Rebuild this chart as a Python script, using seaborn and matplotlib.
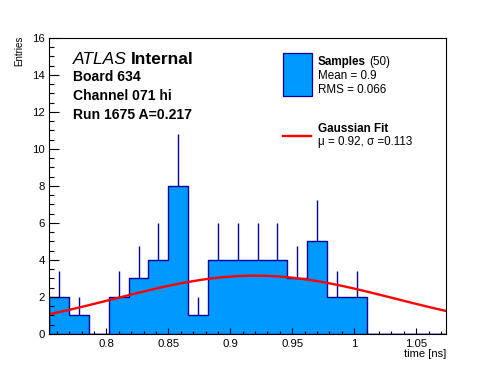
import matplotlib
matplotlib.use("Agg")
import matplotlib.pyplot as plt
import numpy as np
import pandas as pd
import seaborn as sns

# histogram: 20 bins of 0.016 ns starting at 0.754
bin_edges = [0.754, 0.770, 0.786, 0.802, 0.818, 0.834, 0.850, 0.866, 0.882, 0.898,
             0.914, 0.930, 0.946, 0.962, 0.978, 0.994, 1.010, 1.026, 1.042, 1.058, 1.074]
counts = [2, 1, 0, 2, 3, 4, 8, 1, 4, 4, 4, 4, 3, 5, 2, 2, 0, 0, 0, 0]

# gaussian fit parameters
fit_mu = 0.92
fit_sigma = 0.113
fit_amp = 3.15

x_ticks = [0.8, 0.85, 0.9, 0.95, 1.0, 1.05]
x_ticklabels = ["0.8", "0.85", "0.9", "0.95", "1", "1.05"]
y_ticks = [0, 2, 4, 6, 8, 10, 12, 14, 16]

FILL = "#0099ff"
EDGE = "#00009c"
W, H = 496, 372

plt.rcParams["font.family"] = ["Liberation Sans", "DejaVu Sans"]

fig = plt.figure(figsize=(W / 100, H / 100), dpi=100)
ax = fig.add_axes([49.3 / W, 1 - 334 / H, (446 - 49.3) / W, (334 - 37.8) / H])

edges = np.array(bin_edges)
vals = np.array(counts, dtype=float)
centers = (edges[:-1] + edges[1:]) / 2
df = pd.DataFrame({"time": centers, "n": vals})

sns.histplot(data=df, x="time", weights="n", bins=bin_edges, element="step", fill=True,
             color=FILL, edgecolor=EDGE, linewidth=1.0, alpha=1.0, ax=ax)

# upper error bars
nz = vals > 0
ax.vlines(centers[nz], vals[nz], vals[nz] + np.sqrt(vals[nz]), color=EDGE, lw=1.0)

# gaussian fit curve
xf = np.linspace(edges[0], edges[-1], 100)
yf = fit_amp * np.exp(-0.5 * ((xf - fit_mu) / fit_sigma) ** 2)
sns.lineplot(x=xf, y=yf, color="red", lw=1.7, ax=ax)

ax.set_xlim(edges[0], edges[-1])
ax.set_ylim(0, 16)
ax.set_xticks(x_ticks)
ax.set_xticklabels(x_ticklabels)
ax.set_yticks(y_ticks)
ax.set_xticks(np.arange(0.76, 1.0741, 0.01), minor=True)
ax.set_yticks(np.arange(0, 16.01, 0.5), minor=True)
ax.tick_params(axis="both", which="both", direction="in", labelsize=8.2, width=0.8)
ax.tick_params(axis="y", which="major", length=7, pad=3)
ax.tick_params(axis="y", which="minor", length=3.8)
ax.tick_params(axis="x", which="major", length=4.5, pad=3.5)
ax.tick_params(axis="x", which="minor", length=2.3)
for s in ax.spines.values():
    s.set_linewidth(0.8)
ax.set_xlabel("")
ax.set_ylabel("")


def px(x, y):
    return x / W, 1 - y / H


fig.text(*px(446, 357), "time [ns]", ha="right", va="baseline", fontsize=8)
fig.text(*px(19.5, 36), "Entries", rotation=90, ha="center", va="top", fontsize=7)

# labels on the left
t = fig.text(*px(73, 64), "ATLAS", fontsize=12.5, style="italic", va="baseline")
fig.canvas.draw()
bb = t.get_window_extent()
fig.text((bb.x1 + 4) / W, 1 - 64 / H, "Internal", fontsize=12.5, weight="bold", va="baseline")
fig.text(*px(73, 81), "Board 634", fontsize=10.1, weight="bold", va="baseline")
fig.text(*px(73, 100), "Channel 071 hi", fontsize=10.1, weight="bold", va="baseline")
fig.text(*px(73, 119), "Run 1675 A=0.217", fontsize=10.1, weight="bold", va="baseline")

# legend
fig.patches.append(plt.Rectangle(px(283.3, 96), 28.4 / W, 42.7 / H, transform=fig.transFigure,
                                 facecolor=FILL, edgecolor=EDGE, lw=0.9))
t = fig.text(*px(318, 65.3), "Samples", fontsize=8.4, weight="bold", va="baseline")
fig.canvas.draw()
bb = t.get_window_extent()
fig.text((bb.x1 + 3) / W, 1 - 65.3 / H, "(50)", fontsize=8.4, va="baseline")
fig.text(*px(318, 79), "Mean = 0.9", fontsize=8.4, va="baseline")
fig.text(*px(318, 93), "RMS = 0.066", fontsize=8.4, va="baseline")
fig.lines.append(plt.Line2D([283 / W, 311 / W], [1 - 136 / H] * 2, transform=fig.transFigure,
                            color="red", lw=1.7))
fig.text(*px(318, 132.5), "Gaussian Fit", fontsize=8.4, weight="bold", va="baseline")
fig.text(*px(318, 145.5), "\u03bc = 0.92, \u03c3 =0.113", fontsize=8.4, va="baseline")

fig.savefig("out.png", dpi=100)
